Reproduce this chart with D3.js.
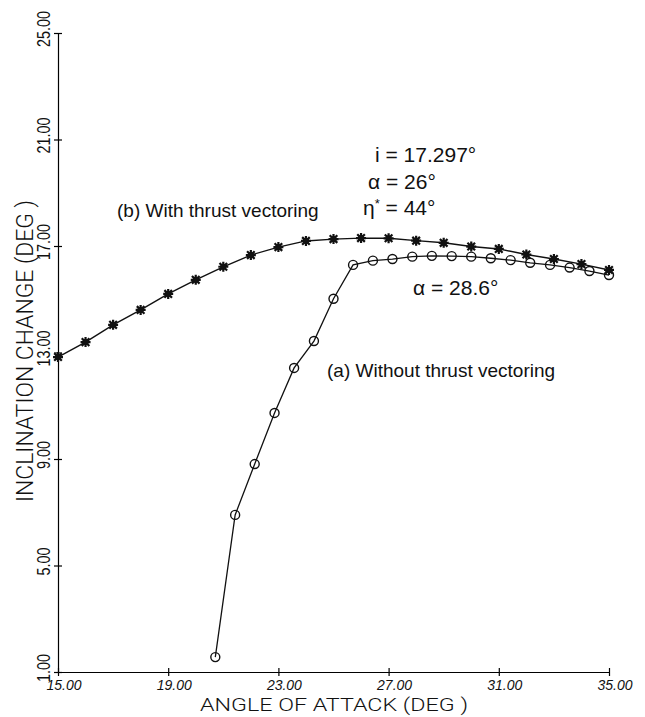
<!DOCTYPE html>
<html>
<head>
<meta charset="utf-8">
<script src="https://cdn.jsdelivr.net/npm/d3@7"></script>
<style>
	body { margin: 0; background: #fff; }
	text { fill: #111; }
</style>
</head>
<body>
<div id="chart-area"></div>
<script>
const margin = {
	top: 33,
	left: 58,
	right: 36,
	bottom: 45
}

const width = 645 - margin.left - margin.right
const height = 717 - margin.top - margin.bottom

// (b) with thrust vectoring, one point per degree
const alphaB = [15, 16, 17, 18, 19, 20, 21, 22, 23, 24, 25, 26, 27, 28, 29, 30, 31, 32, 33, 34, 35]
const incB = [12.83, 13.39, 14.04, 14.60, 15.20, 15.73, 16.22, 16.66, 16.96, 17.19, 17.26, 17.297, 17.29, 17.20, 17.12, 16.98, 16.89, 16.68, 16.51, 16.32, 16.10]

// (a) without thrust vectoring
const alphaA = [20.71, 21.43, 22.14, 22.86, 23.57, 24.29, 25.00, 25.71, 26.43, 27.14, 27.86, 28.57, 29.29, 30.00, 30.71, 31.43, 32.14, 32.86, 33.57, 34.29, 35.00]
const incA = [1.56, 6.90, 8.81, 10.73, 12.42, 13.43, 15.02, 16.29, 16.45, 16.51, 16.60, 16.63, 16.62, 16.60, 16.54, 16.47, 16.37, 16.29, 16.19, 16.06, 15.91]

const xTicks = [15, 19, 23, 27, 31, 35]
const yTicks = [1, 5, 9, 13, 17, 21, 25]

let svg = d3.select('#chart-area')
	.append('svg')
	.attr('width', width + margin.left + margin.right)
	.attr('height', height + margin.top + margin.bottom)
	.style('font-family', '"Liberation Sans", Arial, sans-serif')

let g = svg.append('g')
	.attr('transform', 'translate(' + margin.left + ',' + margin.top + ')')

let xScale = d3.scaleLinear()
	.domain([15, 35])
	.range([0, width])

let yScale = d3.scaleLinear()
	.domain([1, 25])
	.range([height, 0])

// axes - ticks drawn as small crosses
let xAxis = d3.axisBottom(xScale)
	.tickValues(xTicks)
	.tickSizeOuter(0)
	.tickSizeInner(4)
	.tickFormat('')

let xg = g.append('g')
	.attr('class', 'x-axis')
	.attr('transform', 'translate(0,' + height + ')')
	.call(xAxis)
xg.selectAll('.tick line').attr('y1', -4).attr('stroke-width', 1.2)
xg.select('.domain').attr('stroke-width', 1.2)

let yAxis = d3.axisLeft(yScale)
	.tickValues(yTicks)
	.tickSizeOuter(0)
	.tickSizeInner(4)
	.tickFormat('')

let yg = g.append('g')
	.attr('class', 'y-axis')
	.call(yAxis)
yg.selectAll('.tick line').attr('x1', 4).attr('stroke-width', 1.2)
yg.select('.domain').attr('stroke-width', 1.2)

// tick labels
g.selectAll('.xlab')
	.data(xTicks)
	.enter()
	.append('text')
	.attr('class', 'xlab')
	.attr('x', d => xScale(d) + 6)
	.attr('y', height + 18)
	.attr('text-anchor', 'middle')
	.style('font-size', '14px')
	.style('font-style', 'italic')
	.text(d => d3.format('.2f')(d))

g.selectAll('.ylab')
	.data(yTicks)
	.enter()
	.append('text')
	.attr('class', 'ylab')
	.attr('transform', d => 'translate(-8,' + (yScale(d) - 4) + ') rotate(-90) scale(0.8,1)')
	.attr('text-anchor', 'middle')
	.style('font-size', '18px')
	.text(d => d3.format('.2f')(d))

// axis titles
svg.append('text')
	.attr('x', 334)
	.attr('y', 711)
	.attr('text-anchor', 'middle')
	.attr('textLength', 268)
	.attr('lengthAdjust', 'spacingAndGlyphs')
	.style('font-family', 'Roboto, sans-serif')
	.style('font-weight', 300)
	.style('font-size', '19px')
	.text('ANGLE OF ATTACK (DEG )')

svg.append('text')
	.attr('transform', 'translate(33,351) rotate(-90)')
	.attr('text-anchor', 'middle')
	.attr('textLength', 302)
	.attr('lengthAdjust', 'spacingAndGlyphs')
	.style('font-family', 'Roboto, sans-serif')
	.style('font-weight', 300)
	.style('font-size', '23px')
	.text('INCLINATION CHANGE (DEG )')

// curves
const seriesB = alphaB.map((a, i) => [a, incB[i]])
const seriesA = alphaA.map((a, i) => [a, incA[i]])

let line = d3.line()
	.x(d => xScale(d[0]))
	.y(d => yScale(d[1]))

g.append('path')
	.datum(seriesB)
	.attr('d', line)
	.attr('fill', 'none')
	.attr('stroke', '#111')
	.attr('stroke-width', 1.4)

g.append('path')
	.datum(seriesA)
	.attr('d', line)
	.attr('fill', 'none')
	.attr('stroke', '#111')
	.attr('stroke-width', 1.3)

// star markers for (b)
const r = 5, k = 3.8
const starPath = 'M' + (-r) + ',0H' + r + 'M0,' + (-r) + 'V' + r +
	'M' + (-k) + ',' + (-k) + 'L' + k + ',' + k + 'M' + (-k) + ',' + k + 'L' + k + ',' + (-k)

let stars = g.selectAll('.star')
	.data(seriesB)
	.enter()
	.append('g')
	.attr('class', 'star')
	.attr('transform', d => 'translate(' + xScale(d[0]) + ',' + yScale(d[1]) + ')')
stars.append('path')
	.attr('d', starPath)
	.attr('stroke', '#111')
	.attr('stroke-width', 2.2)
stars.append('circle')
	.attr('r', 3)
	.attr('fill', '#111')

// open circle markers for (a)
g.selectAll('.ring')
	.data(seriesA)
	.enter()
	.append('circle')
	.attr('class', 'ring')
	.attr('cx', d => xScale(d[0]))
	.attr('cy', d => yScale(d[1]))
	.attr('r', 4.5)
	.attr('fill', 'none')
	.attr('stroke', '#111')
	.attr('stroke-width', 1.4)

// annotations
svg.append('text')
	.attr('x', 375).attr('y', 162)
	.style('font-size', '21px')
	.text('i = 17.297°')

svg.append('text')
	.attr('x', 368).attr('y', 189)
	.style('font-size', '21px')
	.text('α = 26°')

let eta = svg.append('text')
	.attr('x', 363).attr('y', 215)
	.style('font-size', '21px')
eta.append('tspan').text('η')
eta.append('tspan').attr('dy', -7).style('font-size', '13px').text('*')
eta.append('tspan').attr('dy', 7).text(' = 44°')

svg.append('text')
	.attr('x', 117).attr('y', 217)
	.style('font-size', '19px')
	.text('(b) With thrust vectoring')

svg.append('text')
	.attr('x', 413).attr('y', 295)
	.style('font-size', '21px')
	.text('α = 28.6°')

svg.append('text')
	.attr('x', 327).attr('y', 377)
	.style('font-size', '19px')
	.text('(a) Without thrust vectoring')
</script>
</body>
</html>
